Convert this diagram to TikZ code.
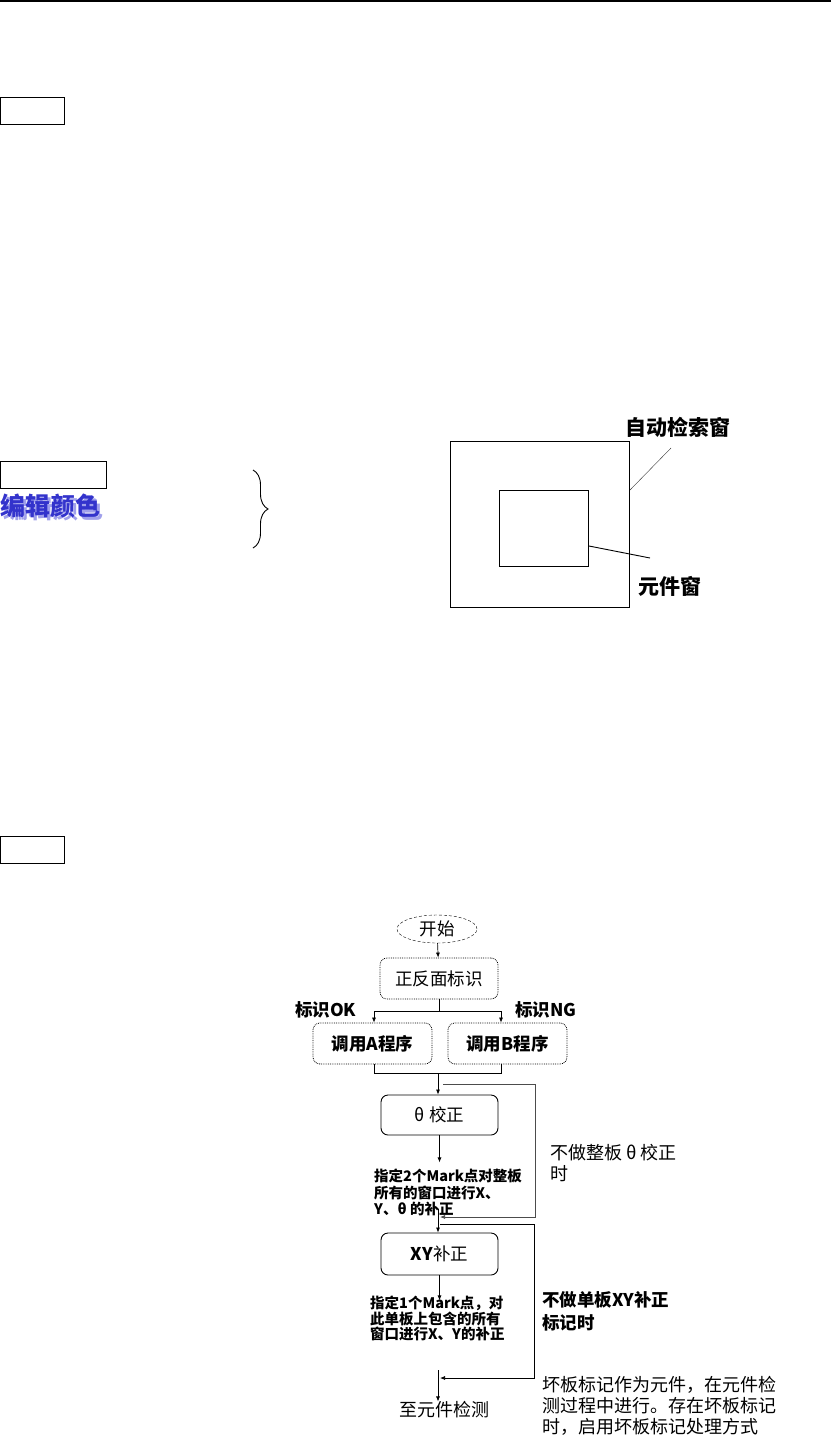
\documentclass[tikz,border=0pt]{standalone}
\usepackage{fontspec}
\setmainfont{Noto Sans CJK SC}
\usepackage{xcolor}
\usetikzlibrary{calc,arrows.meta,shapes.geometric,decorations.pathreplacing}
\definecolor{editblue}{RGB}{51,51,204}
\definecolor{editshade}{RGB}{160,160,235}

\begin{document}
\begin{tikzpicture}[x=1pt, y=-1pt, >={Latex[length=5pt,width=4pt]},
  roundbox/.style={draw, rounded corners=7pt, minimum width=117pt, minimum height=41pt, inner sep=0pt, font=\fontsize{17.5}{20}\selectfont},
  dotbox/.style={roundbox, densely dotted, draw=black, line width=0.8pt},
  note/.style={align=left, anchor=north west, inner sep=0pt, font=\fontsize{18}{21}\selectfont},
  smalltext/.style={align=left, anchor=north west, inner sep=0pt, font=\bfseries\fontsize{14.5}{16.5}\selectfont},
  flow/.style={black, line width=0.7pt}]
\useasboundingbox (0,0) rectangle (831,1440);
\draw[line width=1.2pt] (0,1) -- (831,1);
\draw[line width=0.9pt] (0.5,97) rectangle (64,124);
\draw[line width=0.9pt] (0.5,461) rectangle (106,488);
\node[anchor=west, inner sep=0pt, font=\bfseries\fontsize{25}{25}\selectfont] (edit) at (0,507)
  {\rlap{\hspace{3pt}\raisebox{-3pt}{\textcolor{editshade}{编辑颜色}}}\textcolor{editblue}{编辑颜色}};
\draw[decorate, decoration={brace, amplitude=15pt}, line width=0.9pt] (253,470) -- (253,548);
% windows
\draw[line width=0.9pt] (450,441) rectangle (629,607);
\draw[line width=0.9pt] (499,490) rectangle (588,566);
\node[anchor=west, inner sep=0pt, font=\bfseries\fontsize{21}{21}\selectfont] (searchlbl) at (625,427) {自动检索窗};
\node[anchor=west, inner sep=0pt, font=\bfseries\fontsize{21}{21}\selectfont] (partlbl) at (638,586) {元件窗};
\coordinate (searchend) at (671,448);
\coordinate (partend) at (650,558);
\draw[black!80] (630,490) -- (searchend);
\draw[line width=0.9pt] (589,546) -- (partend);
\draw[line width=0.9pt] (0.5,836) rectangle (64,863);
% flow chart
\node[draw, densely dashed, ellipse, minimum width=80pt, minimum height=28pt, inner sep=0pt, font=\fontsize{17.5}{20}\selectfont] (start) at (437,929) {开始};
\node[dotbox, minimum width=118pt] (face) at (439,978.5) {正反面标识};
\node[dotbox, minimum width=119pt, font=\bfseries\fontsize{17.5}{20}\selectfont] (progA) at (372.5,1043.5) {调用A程序};
\node[dotbox, minimum width=119pt, font=\bfseries\fontsize{17.5}{20}\selectfont] (progB) at (507.5,1043.5) {调用B程序};
\node[roundbox, line width=0.9pt, minimum height=40pt] (zero) at (439.5,1115) {θ 校正};
\node[roundbox, line width=0.9pt, minimum height=42pt] (xy) at (439.5,1254) {\textbf{XY}补正};
\node[smalltext] (zeronote) at (374,1169) {指定2个Mark点对整板\\所有的窗口进行X、\\Y、θ 的补正};
\node[smalltext, font=\bfseries\fontsize{14.5}{15.5}\selectfont] (xynote) at (370,1296) {指定1个Mark点，对\\此单板上包含的所有\\窗口进行X、Y的补正};
\node[font=\fontsize{18}{18}\selectfont, inner sep=0pt] (done) at (444,1410) {至元件检测};
\node[anchor=west, inner sep=0pt, font=\bfseries\fontsize{17.5}{20}\selectfont] (oklbl) at (295,1010) {标识OK};
\node[anchor=west, inner sep=0pt, font=\bfseries\fontsize{17.5}{20}\selectfont] (nglbl) at (515,1010) {标识NG};
\node[note] (skipzero) at (550,1144) {不做整板 θ 校正\\时};
\node[note, font=\bfseries\fontsize{17.5}{23}\selectfont] (skipxy) at (542,1291) {不做单板XY补正\\标记时};
\node[note] (badmark) at (542,1376) {坏板标记作为元件，在元件检\\测过程中进行。存在坏板标记\\时，启用坏板标记处理方式};
\coordinate (split) at (438,1011);
\coordinate (oktop) at (374,1011);
\coordinate (ngtop) at (501,1011);
\coordinate (join) at (438,1073);
\coordinate (skipA) at (443,1084);
\coordinate (backA) at (440,1217);
\coordinate (midA) at (438,1209);
\coordinate (skipB) at (440,1224);
\coordinate (backB) at (440,1378);
\coordinate (midB) at (438,1370);
\draw[->, flow] (start) -- (face);
\draw[flow] (face.south) -- (face.south |- split);
\draw[flow] (oktop) -- (ngtop);
\draw[->, flow] (oktop) -- (oktop |- progA.north);
\draw[->, flow] (ngtop) -- (ngtop |- progB.north);
\draw[flow] (oktop |- progA.south) -- ++(0,9) -| (ngtop |- progB.south);
\draw[->, flow] (join) -- (join |- zero.north);
\draw[->, flow] (zero.south) -- ++(0,27);
\draw[->, flow] (midA) -- (midA |- xy.north);
\draw[->, flow] (xy.south) -- ++(0,25);
\draw[->, flow] (midB) -- (midB |- done.north);
\draw[->, flow, black!70] (skipA) -- ++(92,0) |- (backA);
\draw[->, flow] (skipB) -- ++(94,0) |- (backB);
\end{tikzpicture}
\end{document}
